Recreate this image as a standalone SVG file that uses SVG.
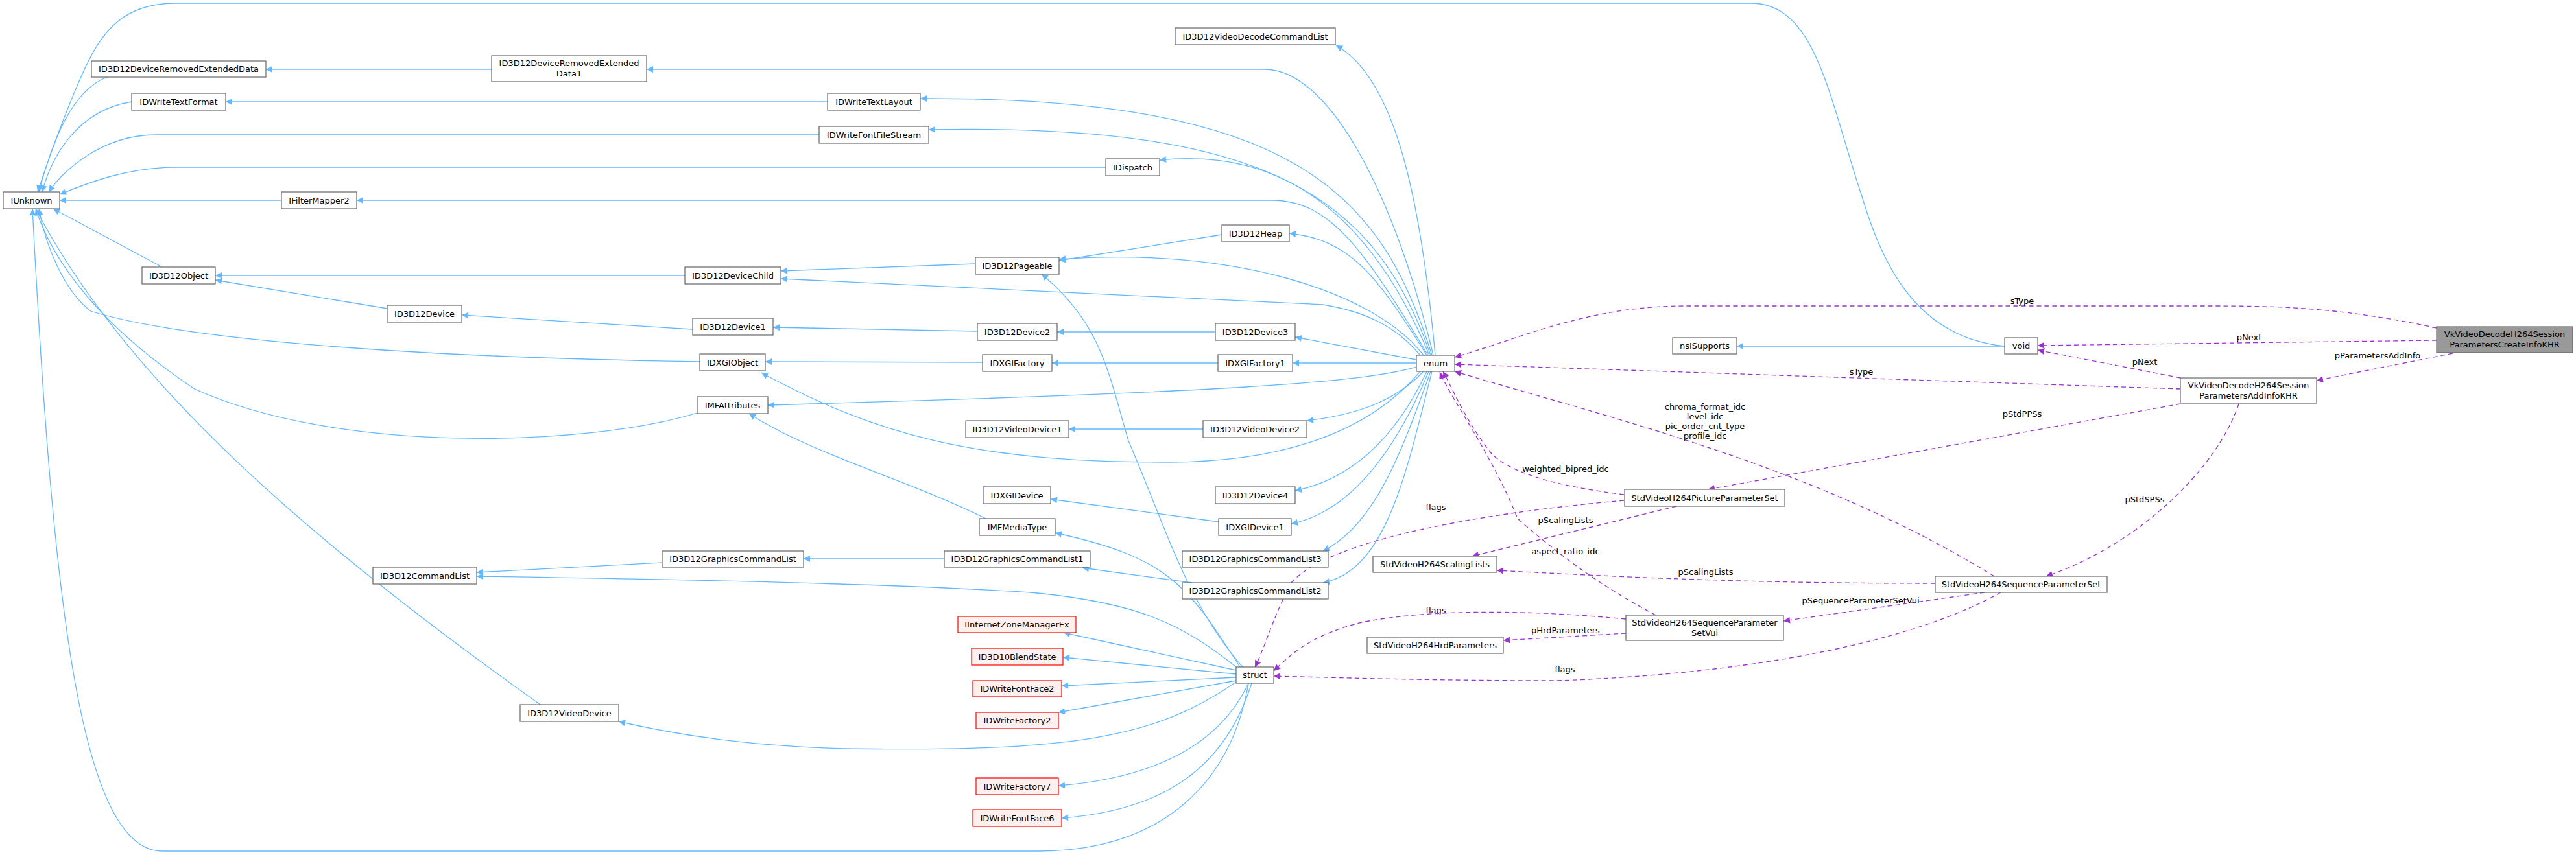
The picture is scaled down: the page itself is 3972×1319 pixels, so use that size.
<svg xmlns="http://www.w3.org/2000/svg" width="3972" height="1319" viewBox="0 0 3972 1319">
<style>
text{font-family:"DejaVu Sans","Liberation Sans",sans-serif;font-size:13px;fill:#000}
.n rect{fill:#fff;stroke:#666;stroke-width:1.2}
.n text{text-anchor:middle}
.r rect{fill:#fff0f0;stroke:#f00}
.main rect{fill:#999;stroke:#666}
.b{fill:none;stroke:#63b8ff;stroke-width:1.3;marker-end:url(#ab)}
.p{fill:none;stroke:#9a32cd;stroke-width:1.3;stroke-dasharray:7,5;marker-end:url(#ap)}
.l{text-anchor:middle}
</style>
<defs>
<marker id="ab" viewBox="0 0 10 10" refX="10" refY="5" markerWidth="13" markerHeight="10" markerUnits="userSpaceOnUse" orient="auto"><path d="M0,0L10,5L0,10z" fill="#63b8ff"/></marker>
<marker id="ap" viewBox="0 0 10 10" refX="10" refY="5" markerWidth="13" markerHeight="10" markerUnits="userSpaceOnUse" orient="auto"><path d="M0,0L10,5L0,10z" fill="#9a32cd"/></marker>
</defs>
<rect width="3972" height="1319" fill="#fff"/>
<g id="edges">
<path class="b" d="M758,107L410,107"/>
<path class="b" d="M1276,157L348,157"/>
<path class="b" d="M165,119C110,140 80,220 60,296"/>
<path class="b" d="M203,157C120,170 80,240 65,296"/>
<path class="b" d="M1263,208L240,208C160,208 100,260 75,296"/>
<path class="b" d="M1705,258L270,258C200,258 140,280 92,300"/>
<path class="b" d="M434,309L92,309"/>
<path class="b" d="M250,412L82,322"/>
<path class="b" d="M1079,558C700,552 300,530 140,480C100,450 70,380 60,322"/>
<path class="b" d="M1075,637C900,690 520,700 300,600C150,500 80,400 55,322"/>
<path class="b" d="M833,1087C500,850 200,600 55,322"/>
<path class="b" d="M1925,1054C1900,1200 1800,1313 1600,1313L250,1313C120,1313 80,900 50,322"/>
<path class="b" d="M3091,534C2950,520 2900,400 2870,300C2820,150 2800,5 2700,5L270,5C180,5 150,60 120,130C90,200 70,260 58,296"/>
<path class="b" d="M1056,425L332,425"/>
<path class="b" d="M597,476L332,432"/>
<path class="b" d="M1504,407L1204,418"/>
<path class="b" d="M1884,362L1633,402"/>
<path class="b" d="M1068,508L712,486"/>
<path class="b" d="M1507,511L1192,505"/>
<path class="b" d="M1874,512L1630,512"/>
<path class="b" d="M1515,559L1180,558"/>
<path class="b" d="M1878,560L1622,560"/>
<path class="b" d="M1855,662L1648,662"/>
<path class="b" d="M1879,805L1620,770"/>
<path class="b" d="M1520,800C1400,740 1250,700 1155,638"/>
<path class="b" d="M1021,868L735,883"/>
<path class="b" d="M1456,862L1239,862"/>
<path class="b" d="M1838,899L1669,876"/>
<path class="b" d="M1906,1029C1820,960 1750,930 1600,915C1400,900 1000,893 735,889"/>
<path class="b" d="M1912,1029C1830,900 1800,860 1627,822"/>
<path class="b" d="M1916,1029C1830,930 1800,820 1740,680C1710,580 1700,500 1606,423"/>
<path class="b" d="M1906,1034L1640,976"/>
<path class="b" d="M1906,1040L1639,1014"/>
<path class="b" d="M1906,1045L1637,1058"/>
<path class="b" d="M1906,1050L1632,1099"/>
<path class="b" d="M1906,1052C1780,1140 1650,1160 1300,1155C1150,1150 1050,1135 954,1113"/>
<path class="b" d="M1925,1054C1880,1150 1780,1200 1632,1212"/>
<path class="b" d="M1930,1054C1890,1180 1800,1250 1637,1262"/>
<path class="b" d="M3091,534L2678,534"/>
<path class="b" d="M2213,548C2190,300 2150,120 2060,70"/>
<path class="b" d="M2210,548C2150,300 2050,107 1950,107L997,107"/>
<path class="b" d="M2208,548C2130,300 2000,150 1419,152"/>
<path class="b" d="M2206,548C2120,300 1950,190 1432,200"/>
<path class="b" d="M2204,548C2100,300 1950,230 1788,247"/>
<path class="b" d="M2202,548C2100,380 2050,309 1960,309L550,309"/>
<path class="b" d="M2200,548C2120,420 2080,370 1988,360"/>
<path class="b" d="M2195,548C2120,450 1900,380 1633,400"/>
<path class="b" d="M2190,548C2150,500 2100,480 2040,470L1204,430"/>
<path class="b" d="M2184,555L1997,520"/>
<path class="b" d="M2184,560L1993,560"/>
<path class="b" d="M2184,566C2100,590 1900,605 1184,625"/>
<path class="b" d="M2190,573C2100,680 1950,713 1800,713C1500,713 1350,670 1174,575"/>
<path class="b" d="M2195,573C2150,620 2090,640 2015,649"/>
<path class="b" d="M2200,573C2150,680 2080,740 1997,757"/>
<path class="b" d="M2203,573C2150,700 2080,790 1991,808"/>
<path class="b" d="M2206,573C2160,700 2120,810 2040,850"/>
<path class="b" d="M2208,573C2170,720 2140,880 2040,899"/>
<path class="p" d="M3757,506C3600,472 3500,472 3400,472L2600,472C2450,472 2350,520 2243,551"/>
<path class="p" d="M3757,525L3142,533"/>
<path class="p" d="M3782,545L3572,587"/>
<path class="p" d="M3362,583L3142,540"/>
<path class="p" d="M3362,600L2243,562"/>
<path class="p" d="M3362,623L2634,755"/>
<path class="p" d="M3452,623C3420,720 3300,840 3155,889"/>
<path class="p" d="M3075,889C2800,720 2500,650 2243,573"/>
<path class="p" d="M2504,763C2400,750 2330,730 2300,700C2260,650 2240,600 2225,573"/>
<path class="p" d="M2553,949C2480,910 2420,870 2340,800C2300,700 2240,620 2220,574"/>
<path class="p" d="M2504,772C2300,790 2050,830 1990,900C1960,960 1950,1000 1935,1029"/>
<path class="p" d="M2585,781L2270,858"/>
<path class="p" d="M2984,900C2700,900 2500,890 2308,880"/>
<path class="p" d="M3060,914L2750,958"/>
<path class="p" d="M2507,955C2350,940 2200,940 2100,960C2020,980 1990,1010 1964,1035"/>
<path class="p" d="M2507,977L2318,988"/>
<path class="p" d="M3085,914C2950,990 2700,1040 2400,1050C2200,1050 2050,1045 1964,1043"/>
<text class="l" x="3118" y="469">sType</text>
<text class="l" x="2870" y="578">sType</text>
<text class="l" x="3468" y="525">pNext</text>
<text class="l" x="3666" y="553">pParametersAddInfo</text>
<text class="l" x="3307" y="563">pNext</text>
<text class="l" x="3118" y="643">pStdPPSs</text>
<text class="l" x="3307" y="775">pStdSPSs</text>
<text class="l" x="2629" y="632">chroma_format_idc</text>
<text class="l" x="2629" y="647">level_idc</text>
<text class="l" x="2629" y="662">pic_order_cnt_type</text>
<text class="l" x="2629" y="677">profile_idc</text>
<text class="l" x="2414" y="728">weighted_bipred_idc</text>
<text class="l" x="2214" y="787">flags</text>
<text class="l" x="2414" y="807">pScalingLists</text>
<text class="l" x="2414" y="855">aspect_ratio_idc</text>
<text class="l" x="2630" y="887">pScalingLists</text>
<text class="l" x="2869" y="931">pSequenceParameterSetVui</text>
<text class="l" x="2214" y="946">flags</text>
<text class="l" x="2414" y="977">pHrdParameters</text>
<text class="l" x="2413" y="1037">flags</text>
</g>
<g id="IUnknown" class="n"><rect x="5" y="296" width="87" height="26"/><text x="48.5" y="314">IUnknown</text></g>
<g id="DRED" class="n"><rect x="141" y="94" width="269" height="25"/><text x="275.5" y="111">ID3D12DeviceRemovedExtendedData</text></g>
<g id="DRED1" class="n"><rect x="758" y="86" width="239" height="40"/><text x="877.5" y="102">ID3D12DeviceRemovedExtended</text><text x="877.5" y="118">Data1</text></g>
<g id="IDWriteTextFormat" class="n"><rect x="203" y="144" width="145" height="26"/><text x="275.5" y="162">IDWriteTextFormat</text></g>
<g id="IFilterMapper2" class="n"><rect x="434" y="296" width="116" height="26"/><text x="492" y="314">IFilterMapper2</text></g>
<g id="ID3D12Object" class="n"><rect x="219" y="412" width="113" height="26"/><text x="275.5" y="430">ID3D12Object</text></g>
<g id="ID3D12Device" class="n"><rect x="597" y="471" width="115" height="26"/><text x="654.5" y="489">ID3D12Device</text></g>
<g id="ID3D12VideoDecodeCommandList" class="n"><rect x="1812" y="43" width="247" height="26"/><text x="1935.5" y="61">ID3D12VideoDecodeCommandList</text></g>
<g id="IDWriteTextLayout" class="n"><rect x="1276" y="144" width="143" height="26"/><text x="1347.5" y="162">IDWriteTextLayout</text></g>
<g id="IDWriteFontFileStream" class="n"><rect x="1263" y="195" width="169" height="26"/><text x="1347.5" y="213">IDWriteFontFileStream</text></g>
<g id="IDispatch" class="n"><rect x="1705" y="245" width="83" height="26"/><text x="1746.5" y="263">IDispatch</text></g>
<g id="ID3D12Heap" class="n"><rect x="1884" y="347" width="104" height="26"/><text x="1936" y="365">ID3D12Heap</text></g>
<g id="ID3D12Pageable" class="n"><rect x="1504" y="397" width="129" height="26"/><text x="1568.5" y="415">ID3D12Pageable</text></g>
<g id="ID3D12DeviceChild" class="n"><rect x="1056" y="412" width="148" height="26"/><text x="1130" y="430">ID3D12DeviceChild</text></g>
<g id="ID3D12Device1" class="n"><rect x="1068" y="491" width="124" height="26"/><text x="1130" y="509">ID3D12Device1</text></g>
<g id="ID3D12Device2" class="n"><rect x="1507" y="499" width="123" height="26"/><text x="1568.5" y="517">ID3D12Device2</text></g>
<g id="ID3D12Device3" class="n"><rect x="1874" y="499" width="123" height="26"/><text x="1935.5" y="517">ID3D12Device3</text></g>
<g id="IDXGIObject" class="n"><rect x="1079" y="546" width="101" height="26"/><text x="1129.5" y="564">IDXGIObject</text></g>
<g id="IDXGIFactory" class="n"><rect x="1515" y="547" width="107" height="26"/><text x="1568.5" y="565">IDXGIFactory</text></g>
<g id="IDXGIFactory1" class="n"><rect x="1878" y="547" width="115" height="26"/><text x="1935.5" y="565">IDXGIFactory1</text></g>
<g id="enum" class="n"><rect x="2184" y="548" width="59" height="25"/><text x="2213.5" y="565">enum</text></g>
<g id="IMFAttributes" class="n"><rect x="1075" y="612" width="109" height="26"/><text x="1129.5" y="630">IMFAttributes</text></g>
<g id="ID3D12VideoDevice1" class="n"><rect x="1489" y="649" width="159" height="26"/><text x="1568.5" y="667">ID3D12VideoDevice1</text></g>
<g id="ID3D12VideoDevice2" class="n"><rect x="1855" y="649" width="160" height="26"/><text x="1935" y="667">ID3D12VideoDevice2</text></g>
<g id="IDXGIDevice" class="n"><rect x="1516" y="751" width="104" height="26"/><text x="1568" y="769">IDXGIDevice</text></g>
<g id="ID3D12Device4" class="n"><rect x="1874" y="751" width="123" height="26"/><text x="1935.5" y="769">ID3D12Device4</text></g>
<g id="IMFMediaType" class="n"><rect x="1510" y="800" width="117" height="26"/><text x="1568.5" y="818">IMFMediaType</text></g>
<g id="IDXGIDevice1" class="n"><rect x="1879" y="800" width="112" height="26"/><text x="1935" y="818">IDXGIDevice1</text></g>
<g id="ID3D12GraphicsCommandList" class="n"><rect x="1021" y="850" width="218" height="25"/><text x="1130" y="867">ID3D12GraphicsCommandList</text></g>
<g id="ID3D12CommandList" class="n"><rect x="575" y="875" width="160" height="26"/><text x="655" y="893">ID3D12CommandList</text></g>
<g id="ID3D12GraphicsCommandList1" class="n"><rect x="1456" y="850" width="225" height="25"/><text x="1568.5" y="867">ID3D12GraphicsCommandList1</text></g>
<g id="ID3D12GraphicsCommandList3" class="n"><rect x="1823" y="850" width="225" height="25"/><text x="1935.5" y="867">ID3D12GraphicsCommandList3</text></g>
<g id="ID3D12GraphicsCommandList2" class="n"><rect x="1823" y="899" width="225" height="25"/><text x="1935.5" y="916">ID3D12GraphicsCommandList2</text></g>
<g id="ID3D12VideoDevice" class="n"><rect x="802" y="1087" width="152" height="26"/><text x="878" y="1105">ID3D12VideoDevice</text></g>
<g id="IInternetZoneManagerEx" class="n r"><rect x="1477" y="951" width="182" height="25"/><text x="1568" y="968">IInternetZoneManagerEx</text></g>
<g id="ID3D10BlendState" class="n r"><rect x="1498" y="1000" width="141" height="26"/><text x="1568.5" y="1018">ID3D10BlendState</text></g>
<g id="IDWriteFontFace2" class="n r"><rect x="1500" y="1050" width="137" height="25"/><text x="1568.5" y="1067">IDWriteFontFace2</text></g>
<g id="IDWriteFactory2" class="n r"><rect x="1505" y="1099" width="127" height="25"/><text x="1568.5" y="1116">IDWriteFactory2</text></g>
<g id="IDWriteFactory7" class="n r"><rect x="1505" y="1200" width="127" height="26"/><text x="1568.5" y="1218">IDWriteFactory7</text></g>
<g id="IDWriteFontFace6" class="n r"><rect x="1500" y="1249" width="137" height="26"/><text x="1568.5" y="1267">IDWriteFontFace6</text></g>
<g id="struct" class="n"><rect x="1906" y="1029" width="58" height="25"/><text x="1935" y="1046">struct</text></g>
<g id="StdVideoH264ScalingLists" class="n"><rect x="2117" y="858" width="191" height="25"/><text x="2212.5" y="875">StdVideoH264ScalingLists</text></g>
<g id="StdVideoH264HrdParameters" class="n"><rect x="2108" y="983" width="210" height="25"/><text x="2213" y="1000">StdVideoH264HrdParameters</text></g>
<g id="StdVideoH264PictureParameterSet" class="n"><rect x="2505" y="755" width="247" height="26"/><text x="2628.5" y="773">StdVideoH264PictureParameterSet</text></g>
<g id="StdVideoH264SequenceParameterSetVui" class="n"><rect x="2507" y="949" width="243" height="39"/><text x="2628.5" y="965">StdVideoH264SequenceParameter</text><text x="2628.5" y="981">SetVui</text></g>
<g id="StdVideoH264SequenceParameterSet" class="n"><rect x="2984" y="889" width="265" height="25"/><text x="3116.5" y="906">StdVideoH264SequenceParameterSet</text></g>
<g id="nsISupports" class="n"><rect x="2579" y="521" width="99" height="25"/><text x="2628.5" y="538">nsISupports</text></g>
<g id="void" class="n"><rect x="3091" y="521" width="51" height="25"/><text x="3116.5" y="538">void</text></g>
<g id="VkAddInfo" class="n"><rect x="3362" y="583" width="210" height="39"/><text x="3467" y="599">VkVideoDecodeH264Session</text><text x="3467" y="615">ParametersAddInfoKHR</text></g>
<g id="VkCreateInfo" class="n main"><rect x="3757" y="504" width="210" height="40"/><text x="3862" y="520">VkVideoDecodeH264Session</text><text x="3862" y="536">ParametersCreateInfoKHR</text></g>
</svg>
